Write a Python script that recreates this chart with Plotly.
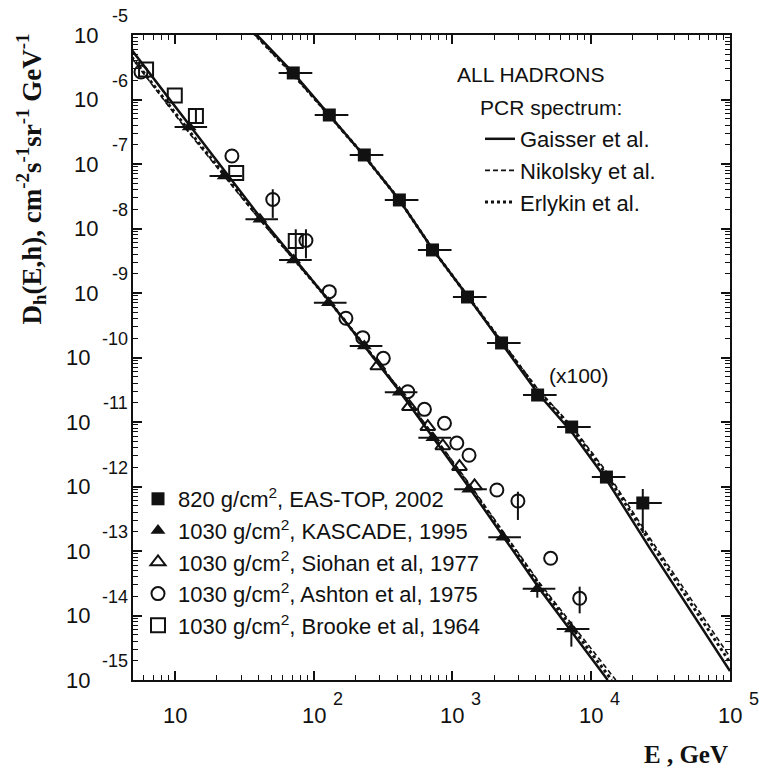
import math
import plotly.graph_objects as go

# ---------------- data ----------------
# EAS-TOP, 820 g/cm2 (x100)
eas_E = [71.4, 129.8, 232, 415, 719, 1285, 2261, 4111, 7234, 12875, 23530]
eas_E_lo = [56.0, 101.9, 182.1, 325.8, 564.4, 1008.7, 1774.9, 3227.1, 5678.7, 10107, 18471]
eas_E_hi = [97.9, 178.0, 318.1, 569.0, 985.7, 1761.7, 3099.8, 5636.2, 9917.8, 17652, 32260]
eas_D = [2.58e-6, 5.75e-7, 1.38e-7, 2.77e-8, 4.65e-9, 8.67e-10, 1.68e-10, 2.62e-11, 8.36e-12, 1.40e-12, 5.55e-13]
eas_D_hi = [2.58e-6, 5.75e-7, 1.38e-7, 2.77e-8, 4.65e-9, 8.67e-10, 1.68e-10, 2.62e-11, 8.36e-12, 1.40e-12, 9.14e-13]
eas_D_lo = [2.58e-6, 5.75e-7, 1.38e-7, 2.77e-8, 4.65e-9, 8.67e-10, 1.68e-10, 2.62e-11, 8.36e-12, 1.40e-12, 1.90e-13]

# KASCADE, 1030 g/cm2
kas_E = [12.7, 22.7, 41.1, 71.9, 128, 232, 415, 724, 1313, 2310, 4090, 7195]
kas_E_lo = [9.97, 17.8, 32.3, 56.4, 100.5, 182.1, 325.8, 568.3, 1030.7, 1813.4, 3210.7, 5648]
kas_E_hi = [17.1, 30.6, 55.4, 97.0, 172.7, 313.0, 559.8, 976.7, 1771.2, 3116.2, 5517.4, 9706]
kas_D = [3.75e-7, 6.51e-8, 1.39e-8, 3.25e-9, 7.08e-10, 1.51e-10, 2.88e-11, 5.69e-12, 9.06e-13, 1.63e-13, 2.61e-14, 6.18e-15]
kas_D_hi = [3.75e-7, 6.51e-8, 1.39e-8, 3.25e-9, 7.08e-10, 1.51e-10, 2.88e-11, 5.69e-12, 9.06e-13, 1.63e-13, 3.21e-14, 8.02e-15]
kas_D_lo = [3.75e-7, 6.51e-8, 1.39e-8, 3.25e-9, 7.08e-10, 1.51e-10, 2.88e-11, 5.69e-12, 9.06e-13, 1.63e-13, 1.89e-14, 3.29e-15]

# Siohan et al 1977
sio_E = [290, 490, 665, 853, 1125, 1444]
sio_D = [7.38e-11, 1.73e-11, 8.45e-12, 4.25e-12, 2.03e-12, 1.02e-12]

# Ashton et al 1975
ash_E = [5.71, 25.8, 50.8, 88.1, 129.8, 171, 226, 318, 477, 629, 877, 1076, 1318, 2091, 2965, 5103, 8260]
ash_D = [2.67e-6, 1.33e-7, 2.82e-8, 6.52e-9, 1.05e-9, 4.06e-10, 2.03e-10, 9.73e-11, 2.95e-11, 1.57e-11,
         9.55e-12, 4.72e-12, 3.05e-12, 8.83e-13, 5.96e-13, 7.71e-14, 1.85e-14]
ash_D_hi = [2.67e-6, 1.33e-7, 4.06e-8, 9.73e-9, 1.05e-9, 4.06e-10, 2.03e-10, 9.73e-11, 2.95e-11, 1.57e-11,
            9.55e-12, 4.72e-12, 3.05e-12, 8.83e-13, 8.30e-13, 7.71e-14, 2.80e-14]
ash_D_lo = [2.67e-6, 1.33e-7, 1.46e-8, 3.45e-9, 1.05e-9, 4.06e-10, 2.03e-10, 9.73e-11, 2.95e-11, 1.57e-11,
            9.55e-12, 4.72e-12, 3.05e-12, 8.83e-13, 3.03e-13, 7.71e-14, 1.08e-14]

# Brooke et al 1964
bro_E = [6.21, 10.0, 14.2, 27.7, 74.4]
bro_D = [2.92e-6, 1.15e-6, 5.55e-7, 7.24e-8, 6.40e-9]
bro_D_hi = [2.92e-6, 1.15e-6, 7.19e-7, 7.24e-8, 9.73e-9]
bro_D_lo = [2.92e-6, 1.15e-6, 4.40e-7, 7.24e-8, 3.45e-9]

# PCR-spectrum model curves, 1030 g/cm2
low_E_gai = [4.9, 12.69, 40.6, 129.8, 415.2, 1328, 4251, 13150]
low_D_gai = [5.85e-6, 4.02e-7, 1.56e-8, 7.52e-10, 3.02e-11, 9.48e-13, 2.58e-14, 1.0e-15]
low_E_nik = [4.9, 12.69, 40.6, 129.8, 415.2, 1328, 4251, 15030]
low_D_nik = [4.40e-6, 3.02e-7, 1.40e-8, 7.52e-10, 3.25e-11, 1.09e-12, 3.19e-14, 1.0e-15]
low_E_erl = [4.9, 12.69, 40.6, 129.8, 415.2, 1328, 4251, 14060]
low_D_erl = [4.56e-6, 3.25e-7, 1.46e-8, 7.52e-10, 3.13e-11, 1.02e-12, 2.97e-14, 1.0e-15]

# PCR-spectrum model curves, 820 g/cm2 (x100)
up_E = [34.4, 71.4, 129.8, 232.1, 415.2, 718.6, 1285, 2261, 4111, 7234, 12935, 26430, 51360, 100000]
up_D_gai = [1.33e-5, 2.58e-6, 5.75e-7, 1.33e-7, 2.77e-8, 4.81e-9, 8.98e-10, 1.68e-10, 2.82e-11, 7.00e-12,
            1.26e-12, 1.11e-13, 1.22e-14, 1.38e-15]
up_D_nik = [1.24e-5, 2.40e-6, 5.55e-7, 1.31e-7, 2.77e-8, 4.81e-9, 8.98e-10, 1.80e-10, 3.25e-11, 8.67e-12,
            1.68e-12, 1.59e-13, 1.87e-14, 2.27e-15]
up_D_erl = [1.26e-5, 2.44e-6, 5.65e-7, 1.33e-7, 2.77e-8, 4.81e-9, 8.98e-10, 1.74e-10, 3.13e-11, 8.07e-12,
            1.51e-12, 1.40e-13, 1.59e-14, 1.87e-15]

x_tick_vals = [10, 100, 1000, 10000, 100000]
x_tick_exps = ["", "2", "3", "4", "5"]
y_tick_exps = [-5, -6, -7, -8, -9, -10, -11, -12, -13, -14, -15]

# ---------------- styling ----------------
SANS = "Liberation Sans, Arial, Helvetica, sans-serif"
SERIF = "Liberation Serif, Times New Roman, serif"
INK = "#111111"

fig = go.Figure()


def plus(v, hi):
    return [h - x for x, h in zip(v, hi)]


def minus(v, lo):
    return [x - l for x, l in zip(v, lo)]


ebar = dict(type="data", symmetric=False, color=INK, thickness=2, width=0)

# model curves first (under the markers)
line_styles = {
    "Gaisser et al.": dict(color=INK, width=2.5, dash="solid"),
    "Nikolsky et al.": dict(color=INK, width=1.6, dash="5px,3px"),
    "Erlykin et al.": dict(color=INK, width=3, dash="3px,3px"),
}
for name, (lE, lD, uD) in {
    "Gaisser et al.": (low_E_gai, low_D_gai, up_D_gai),
    "Nikolsky et al.": (low_E_nik, low_D_nik, up_D_nik),
    "Erlykin et al.": (low_E_erl, low_D_erl, up_D_erl),
}.items():
    fig.add_trace(go.Scatter(x=lE, y=lD, mode="lines", name=name, line=line_styles[name],
                             legend="legend2", legendgroup=name, showlegend=True))
    fig.add_trace(go.Scatter(x=up_E, y=uD, mode="lines", name=name, line=line_styles[name],
                             legend="legend2", legendgroup=name, showlegend=False))

fig.add_trace(go.Scatter(
    x=eas_E, y=eas_D, mode="markers", name="820 g/cm<sup>2</sup>, EAS-TOP, 2002",
    marker=dict(symbol="square", size=13, color=INK),
    error_x=dict(ebar, array=plus(eas_E, eas_E_hi), arrayminus=minus(eas_E, eas_E_lo)),
    error_y=dict(ebar, array=plus(eas_D, eas_D_hi), arrayminus=minus(eas_D, eas_D_lo)),
))
fig.add_trace(go.Scatter(
    x=kas_E, y=kas_D, mode="markers", name="1030 g/cm<sup>2</sup>, KASCADE, 1995",
    marker=dict(symbol="triangle-up", size=13, color=INK),
    error_x=dict(ebar, array=plus(kas_E, kas_E_hi), arrayminus=minus(kas_E, kas_E_lo)),
    error_y=dict(ebar, array=plus(kas_D, kas_D_hi), arrayminus=minus(kas_D, kas_D_lo)),
))
fig.add_trace(go.Scatter(
    x=sio_E, y=sio_D, mode="markers", name="1030 g/cm<sup>2</sup>, Siohan et al, 1977",
    marker=dict(symbol="triangle-up-open", size=13, color=INK, line=dict(width=2, color=INK)),
))
fig.add_trace(go.Scatter(
    x=ash_E, y=ash_D, mode="markers", name="1030 g/cm<sup>2</sup>, Ashton et al, 1975",
    marker=dict(symbol="circle-open", size=13, color=INK, line=dict(width=2, color=INK)),
    error_y=dict(ebar, array=plus(ash_D, ash_D_hi), arrayminus=minus(ash_D, ash_D_lo)),
))
fig.add_trace(go.Scatter(
    x=bro_E, y=bro_D, mode="markers", name="1030 g/cm<sup>2</sup>, Brooke et al, 1964",
    marker=dict(symbol="square-open", size=14, color=INK, line=dict(width=2, color=INK)),
    error_y=dict(ebar, array=plus(bro_D, bro_D_hi), arrayminus=minus(bro_D, bro_D_lo)),
))

# ---------------- axes ----------------
x_minor = [m * 10 ** k for k in range(0, 5) for m in range(2, 10) if 5 <= m * 10 ** k <= 1e5]
y_minor = [m * 10.0 ** k for k in range(-15, -5) for m in range(2, 10)]

axis_common = dict(showline=True, linewidth=2, linecolor=INK, mirror="ticks", ticks="inside",
                   ticklen=9, tickwidth=1.5, tickcolor=INK, showgrid=False, zeroline=False,
                   showticklabels=False)
fig.update_xaxes(type="log", range=[math.log10(5), 5], tickmode="array", tickvals=x_tick_vals,
                 minor=dict(tickmode="array", tickvals=x_minor, ticks="inside", ticklen=5,
                            tickwidth=1.2, tickcolor=INK, showgrid=False),
                 **axis_common)
fig.update_yaxes(type="log", range=[-15, -5], tickmode="array",
                 tickvals=[10.0 ** e for e in y_tick_exps],
                 minor=dict(tickmode="array", tickvals=y_minor, ticks="inside", ticklen=5,
                            tickwidth=1.2, tickcolor=INK, showgrid=False),
                 **axis_common)

# ---------------- tick labels (base 10 with raised exponent) ----------------
ann = []
for e in y_tick_exps:
    exp_txt = str(e)
    ann.append(dict(text="10", x=0, xref="paper", y=e, yref="y", xanchor="right", yanchor="middle",
                    xshift=-33 if len(exp_txt) == 2 else -41, showarrow=False,
                    font=dict(family=SANS, size=22, color=INK)))
    ann.append(dict(text=exp_txt, x=0, xref="paper", y=e, yref="y", xanchor="right", yanchor="middle",
                    xshift=-3, yshift=19, showarrow=False,
                    font=dict(family=SANS, size=18, color=INK)))
for v, ex in zip(x_tick_vals, x_tick_exps):
    ann.append(dict(text="10", x=math.log10(v), xref="x", y=0, yref="paper", xanchor="center",
                    yanchor="middle", yshift=-35, showarrow=False,
                    font=dict(family=SANS, size=22, color=INK)))
    if ex:
        ann.append(dict(text=ex, x=math.log10(v), xref="x", y=0, yref="paper", xanchor="left",
                        yanchor="middle", xshift=17, yshift=-19, showarrow=False,
                        font=dict(family=SANS, size=18, color=INK)))

# axis titles
ann.append(dict(text="<b>D<sub>h</sub>(E,h), cm<sup>-2</sup>s<sup>-1</sup>sr<sup>-1</sup> GeV<sup>-1</sup></b>",
                x=-0.17, xref="paper", y=0.7767, yref="paper", xanchor="center", yanchor="middle",
                textangle=-90, showarrow=False, font=dict(family=SERIF, size=27, color=INK)))
ann.append(dict(text="<b>E , GeV</b>", x=1, xref="paper", y=-0.116, yref="paper",
                xanchor="right", yanchor="middle", showarrow=False,
                font=dict(family=SERIF, size=25, color=INK)))

# in-plot texts
ann.append(dict(text="ALL HADRONS", x=(455 - 133) / 597, xref="paper", y=(680 - 74) / 645, yref="paper",
                xanchor="left", yanchor="middle", showarrow=False, font=dict(family=SANS, size=21, color=INK)))
ann.append(dict(text="PCR spectrum:", x=(478 - 133) / 597, xref="paper", y=(680 - 108) / 645, yref="paper",
                xanchor="left", yanchor="middle", showarrow=False, font=dict(family=SANS, size=21, color=INK)))
ann.append(dict(text="(x100)", x=(547 - 133) / 597, xref="paper", y=(680 - 375) / 645, yref="paper",
                xanchor="left", yanchor="middle", showarrow=False, font=dict(family=SANS, size=21, color=INK)))

fig.update_layout(
    width=759, height=771,
    margin=dict(l=133, r=29, t=35, b=91),
    paper_bgcolor="white", plot_bgcolor="white",
    annotations=ann,
    showlegend=True,
    legend=dict(x=(138 - 133) / 597, y=(680 - 478) / 645, xanchor="left", yanchor="top",
                bgcolor="rgba(0,0,0,0)", borderwidth=0, font=dict(family=SANS, size=22, color=INK),
                itemclick=False, traceorder="normal"),
    legend2=dict(x=(480 - 133) / 597, y=(680 - 118) / 645, xanchor="left", yanchor="top",
                 bgcolor="rgba(0,0,0,0)", borderwidth=0, font=dict(family=SANS, size=22, color=INK),
                 itemclick=False, traceorder="normal"),
)

fig.write_html("out.html")
